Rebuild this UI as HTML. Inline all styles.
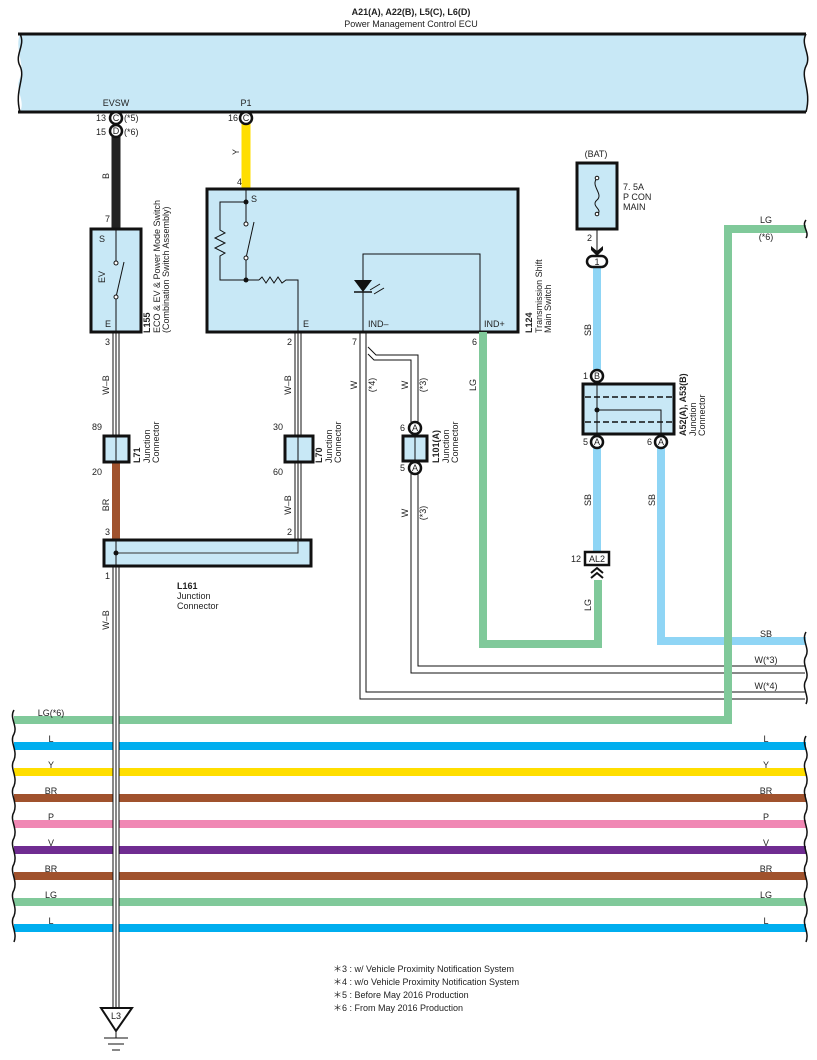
<!DOCTYPE html>
<html><head><meta charset="utf-8"><style>
html,body{margin:0;padding:0;background:#fff}
svg{display:block}
text{font-family:"Liberation Sans",sans-serif;font-size:9px;fill:#222}
</style></head><body>
<svg width="817" height="1060" viewBox="0 0 817 1060" xmlns="http://www.w3.org/2000/svg">
<!-- ECU -->
<text x="411" y="15" text-anchor="middle" font-weight="bold">A21(A), A22(B), L5(C), L6(D)</text>
<text x="411" y="27" text-anchor="middle">Power Management Control ECU</text>
<path d="M20,34 L806,34 C800,45 812,55 806,66 C800,78 812,90 806,112 L20,112 C26,100 14,90 20,78 C26,66 14,50 20,34Z" fill="#c8e8f6"/>
<line x1="18" y1="34" x2="806" y2="34" stroke="#111" stroke-width="3"/>
<line x1="18" y1="112" x2="806" y2="112" stroke="#111" stroke-width="3"/>
<path d="M20,34 C26,45 14,55 20,66 C26,78 14,90 20,112" fill="none" stroke="#111" stroke-width="1.5"/>
<path d="M806,34 C800,45 812,55 806,66 C800,78 812,90 806,112" fill="none" stroke="#111" stroke-width="1.5"/>
<text x="116" y="106" text-anchor="middle">EVSW</text>
<text x="246" y="106" text-anchor="middle">P1</text>

<!-- wires B and Y -->
<line x1="116" y1="136" x2="116" y2="229" stroke="#222" stroke-width="9"/>
<line x1="246" y1="122" x2="246" y2="189" stroke="#ffde00" stroke-width="9"/>
<g fill="#fff" stroke="#111" stroke-width="2.5">
<circle cx="116" cy="118" r="6"/><circle cx="116" cy="131" r="6"/><circle cx="246" cy="118" r="6"/>
</g>
<g font-size="8" text-anchor="middle">
<text x="116" y="121">C</text><text x="116" y="134">D</text><text x="246" y="121">C</text>
</g>
<text x="106" y="121" text-anchor="end">13</text><text x="106" y="135" text-anchor="end">15</text>
<text x="124" y="121">(*5)</text><text x="124" y="135">(*6)</text>
<text x="238" y="121" text-anchor="end">16</text>
<text transform="translate(109,176) rotate(-90)" text-anchor="middle">B</text>
<text transform="translate(239,152) rotate(-90)" text-anchor="middle">Y</text>
<text x="105" y="222">7</text><text x="237" y="185">4</text>

<!-- L155 -->
<rect x="91" y="229" width="50" height="103" fill="#c8e8f6" stroke="#111" stroke-width="3"/>
<line x1="116" y1="229" x2="116" y2="262" stroke="#111"/>
<line x1="116" y1="297" x2="116" y2="332" stroke="#111"/>
<line x1="116" y1="297" x2="124" y2="262" stroke="#111"/>
<circle cx="116" cy="263" r="2" fill="#fff" stroke="#111"/><circle cx="116" cy="297" r="2" fill="#fff" stroke="#111"/>
<text x="99" y="242">S</text><text x="105" y="327">E</text>
<text transform="translate(105,283) rotate(-90)">EV</text>
<g transform="translate(150,333) rotate(-90)"><text x="0" y="0" font-weight="bold">L155</text><text x="0" y="10">ECO &amp; EV &amp; Power Mode Switch</text><text x="0" y="19">(Combination Switch Assembly)</text></g>

<!-- L124 -->
<rect x="207" y="189" width="311" height="143" fill="#c8e8f6" stroke="#111" stroke-width="3"/>
<g stroke="#111" fill="none">
<line x1="246" y1="189" x2="246" y2="224"/>
<line x1="246" y1="280" x2="246" y2="257"/>
<line x1="246" y1="258" x2="254" y2="222"/>
<polyline points="246,202 220,202 220,230 225,233 215,238 225,243 215,248 225,253 220,256 220,280 259,280"/>
<polyline points="259,280 262,277 266,283 270,277 274,283 278,277 282,283 286,280 298,280 298,332"/>
<polyline points="363,332 363,254 480,254 480,332"/>
<line x1="370" y1="290" x2="380" y2="284"/><line x1="374" y1="294" x2="384" y2="288"/>
</g>
<circle cx="246" cy="202" r="2.5" fill="#111"/><circle cx="246" cy="280" r="2.5" fill="#111"/>
<circle cx="246" cy="224" r="2" fill="#fff" stroke="#111"/><circle cx="246" cy="258" r="2" fill="#fff" stroke="#111"/>
<polygon points="354,280 372,280 363,292" fill="#111"/><line x1="354" y1="292" x2="372" y2="292" stroke="#111" stroke-width="1.5"/>
<text x="251" y="202">S</text><text x="303" y="327">E</text><text x="368" y="327">IND–</text><text x="484" y="327">IND+</text>
<g transform="translate(532,333) rotate(-90)"><text x="0" y="0" font-weight="bold">L124</text><text x="0" y="10">Transmission Shift</text><text x="0" y="19">Main Switch</text></g>

<!-- W-B wires -->
<g stroke="#111" stroke-width="1">
<line x1="113" y1="332" x2="113" y2="436"/><line x1="116" y1="332" x2="116" y2="436"/><line x1="119" y1="332" x2="119" y2="436"/>
<line x1="113" y1="566" x2="113" y2="1010"/><line x1="116" y1="566" x2="116" y2="1010"/><line x1="119" y1="566" x2="119" y2="1010"/>
<line x1="295" y1="332" x2="295" y2="436"/><line x1="298" y1="332" x2="298" y2="436"/><line x1="301" y1="332" x2="301" y2="436"/>
<line x1="295" y1="462" x2="295" y2="540"/><line x1="298" y1="462" x2="298" y2="540"/><line x1="301" y1="462" x2="301" y2="540"/>
</g>
<text x="110" y="345" text-anchor="end">3</text><text x="292" y="345" text-anchor="end">2</text><text x="357" y="345" text-anchor="end">7</text><text x="477" y="345" text-anchor="end">6</text>
<text transform="translate(109,385) rotate(-90)" text-anchor="middle">W–B</text>
<text transform="translate(291,385) rotate(-90)" text-anchor="middle">W–B</text>
<text transform="translate(291,505) rotate(-90)" text-anchor="middle">W–B</text>
<text transform="translate(109,620) rotate(-90)" text-anchor="middle">W–B</text>

<!-- L71, L70 -->
<line x1="116" y1="462" x2="116" y2="541" stroke="#a0522d" stroke-width="8"/>
<rect x="104" y="436" width="25" height="26" fill="#c8e8f6" stroke="#111" stroke-width="3"/><line x1="116" y1="436" x2="116" y2="462" stroke="#111"/>
<rect x="285" y="436" width="28" height="26" fill="#c8e8f6" stroke="#111" stroke-width="3"/><line x1="298" y1="436" x2="298" y2="462" stroke="#111"/>
<text x="102" y="430" text-anchor="end">89</text><text x="102" y="475" text-anchor="end">20</text>
<text x="283" y="430" text-anchor="end">30</text><text x="283" y="475" text-anchor="end">60</text>
<text transform="translate(109,505) rotate(-90)" text-anchor="middle">BR</text>
<g transform="translate(140,463) rotate(-90)"><text x="0" y="0" font-weight="bold">L71</text><text x="0" y="10">Junction</text><text x="0" y="19">Connector</text></g>
<g transform="translate(322,463) rotate(-90)"><text x="0" y="0" font-weight="bold">L70</text><text x="0" y="10">Junction</text><text x="0" y="19">Connector</text></g>

<!-- L161 -->
<rect x="104" y="540" width="207" height="26" fill="#c8e8f6" stroke="#111" stroke-width="3"/>
<polyline points="116,553 298,553 298,540" fill="none" stroke="#333"/>
<line x1="116" y1="540" x2="116" y2="566" stroke="#111"/>
<circle cx="116" cy="553" r="2.5" fill="#111"/>
<text x="110" y="535" text-anchor="end">3</text><text x="292" y="535" text-anchor="end">2</text><text x="110" y="579" text-anchor="end">1</text>
<text x="177" y="589" font-weight="bold">L161</text><text x="177" y="599">Junction</text><text x="177" y="609">Connector</text>

<!-- W wires -->
<g stroke="#111" fill="none" stroke-width="1">
<polyline points="360,332 360,699 805,699"/>
<polyline points="366,332 366,692 805,692"/>
<polyline points="368,347 376,355 418,355 418,422"/>
<polyline points="368,354 374,360 411,360 411,422"/>
<polyline points="411,473 411,673 805,673"/>
<polyline points="418,473 418,666 805,666"/>
</g>
<text transform="translate(357,385) rotate(-90)" text-anchor="middle">W</text>
<text transform="translate(375,385) rotate(-90)" text-anchor="middle">(*4)</text>
<text transform="translate(408,385) rotate(-90)" text-anchor="middle">W</text>
<text transform="translate(426,385) rotate(-90)" text-anchor="middle">(*3)</text>
<text transform="translate(408,513) rotate(-90)" text-anchor="middle">W</text>
<text transform="translate(426,513) rotate(-90)" text-anchor="middle">(*3)</text>
<!-- L101 -->
<rect x="403" y="436" width="24" height="25" fill="#c8e8f6" stroke="#111" stroke-width="3"/><line x1="415" y1="436" x2="415" y2="461" stroke="#111"/>
<g fill="#fff" stroke="#111" stroke-width="2.5"><circle cx="415" cy="428" r="6"/><circle cx="415" cy="468" r="6"/></g>
<text x="415" y="431" text-anchor="middle" font-size="8">A</text><text x="415" y="471" text-anchor="middle" font-size="8">A</text>
<text x="405" y="431" text-anchor="end">6</text><text x="405" y="471" text-anchor="end">5</text>
<g transform="translate(439,463) rotate(-90)"><text x="0" y="0" font-weight="bold">L101(A)</text><text x="0" y="10">Junction</text><text x="0" y="19">Connector</text></g>

<!-- LG from IND+ -->
<polyline points="483,332 483,644 598,644 598,580" fill="none" stroke="#80c99a" stroke-width="8"/>
<text transform="translate(476,385) rotate(-90)" text-anchor="middle">LG</text>
<text transform="translate(591,605) rotate(-90)" text-anchor="middle">LG</text>

<!-- fuse -->
<text x="596" y="157" text-anchor="middle">(BAT)</text>
<rect x="577" y="163" width="40" height="66" fill="#c8e8f6" stroke="#111" stroke-width="3"/>
<path d="M597,178 C590,186 604,194 597,200 C590,206 604,210 597,214" fill="none" stroke="#111"/>
<circle cx="597" cy="178" r="1.8" fill="#fff" stroke="#111"/><circle cx="597" cy="214" r="1.8" fill="#fff" stroke="#111"/>
<line x1="597" y1="229" x2="597" y2="252" stroke="#111"/>
<polygon points="591,246 597,251 603,246 603,250 597,256 591,250" fill="#111"/>
<text x="623" y="190">7. 5A</text><text x="623" y="200">P CON</text><text x="623" y="210">MAIN</text>
<text x="592" y="241" text-anchor="end">2</text>
<line x1="597" y1="266" x2="597" y2="371" stroke="#8fd5f5" stroke-width="8"/>
<rect x="587" y="256" width="20" height="11" rx="5.5" fill="#fff" stroke="#111" stroke-width="2.5"/>
<text x="597" y="265" text-anchor="middle" font-size="8">1</text>
<text transform="translate(591,330) rotate(-90)" text-anchor="middle">SB</text>

<!-- A52 -->
<line x1="597" y1="446" x2="597" y2="553" stroke="#8fd5f5" stroke-width="8"/>
<polyline points="661,446 661,641 806,641" fill="none" stroke="#8fd5f5" stroke-width="8"/>
<rect x="583" y="384" width="91" height="50" fill="#c8e8f6" stroke="#111" stroke-width="3"/>
<line x1="585" y1="397" x2="672" y2="397" stroke="#111" stroke-width="1.5" stroke-dasharray="6,3"/>
<line x1="585" y1="422" x2="672" y2="422" stroke="#111" stroke-width="1.5" stroke-dasharray="6,3"/>
<line x1="597" y1="384" x2="597" y2="434" stroke="#111"/>
<polyline points="597,410 661,410 661,434" fill="none" stroke="#111"/>
<circle cx="597" cy="410" r="2.5" fill="#111"/>
<g fill="#fff" stroke="#111" stroke-width="2.5"><circle cx="597" cy="376" r="6"/><circle cx="597" cy="442" r="6"/><circle cx="661" cy="442" r="6"/></g>
<text x="597" y="379" text-anchor="middle" font-size="8">B</text><text x="597" y="445" text-anchor="middle" font-size="8">A</text><text x="661" y="445" text-anchor="middle" font-size="8">A</text>
<text x="588" y="379" text-anchor="end">1</text><text x="588" y="445" text-anchor="end">5</text><text x="652" y="445" text-anchor="end">6</text>
<g transform="translate(686,436) rotate(-90)"><text x="0" y="0" font-weight="bold">A52(A), A53(B)</text><text x="0" y="10">Junction</text><text x="0" y="19">Connector</text></g>
<text transform="translate(591,500) rotate(-90)" text-anchor="middle">SB</text>
<text transform="translate(655,500) rotate(-90)" text-anchor="middle">SB</text>
<!-- AL2 -->
<rect x="585" y="552" width="24" height="13" fill="#fff" stroke="#111" stroke-width="2.5"/>
<text x="597" y="562" text-anchor="middle">AL2</text><text x="581" y="562" text-anchor="end">12</text>
<polyline points="591,573 597,568 603,573" fill="none" stroke="#111" stroke-width="2"/>
<polyline points="591,578 597,573 603,578" fill="none" stroke="#111" stroke-width="2"/>
<text x="766" y="637" text-anchor="middle">SB</text>
<text x="766" y="663" text-anchor="middle">W(*3)</text>
<text x="766" y="689" text-anchor="middle">W(*4)</text>

<!-- LG(*6) -->
<polyline points="806,229 728,229 728,720 14,720" fill="none" stroke="#80c99a" stroke-width="8"/>
<text x="766" y="223" text-anchor="middle">LG</text><text x="766" y="240" text-anchor="middle">(*6)</text>
<path d="M806,220 C801,226 810,232 806,238" fill="none" stroke="#111" stroke-width="1.5"/>
<path d="M806,632 C801,640 810,648 806,656 C801,664 810,672 806,680 C801,688 810,696 806,704" fill="none" stroke="#111" stroke-width="1.5"/>

<!-- buses -->
<g stroke-width="8">
<line x1="14" y1="746" x2="806" y2="746" stroke="#00aeef"/>
<line x1="14" y1="772" x2="806" y2="772" stroke="#ffde00"/>
<line x1="14" y1="798" x2="806" y2="798" stroke="#a0522d"/>
<line x1="14" y1="824" x2="806" y2="824" stroke="#f088b4"/>
<line x1="14" y1="850" x2="806" y2="850" stroke="#6f2c91"/>
<line x1="14" y1="876" x2="806" y2="876" stroke="#a0522d"/>
<line x1="14" y1="902" x2="806" y2="902" stroke="#80c99a"/>
<line x1="14" y1="928" x2="806" y2="928" stroke="#00aeef"/>
</g>
<line x1="116" y1="715" x2="116" y2="935" stroke="#fff" stroke-width="7"/>
<g stroke="#111" stroke-width="1">
<line x1="113" y1="712" x2="113" y2="940"/><line x1="116" y1="712" x2="116" y2="940"/><line x1="119" y1="712" x2="119" y2="940"/>
</g>
<path d="M14,710 C9,718 18,726 14,734 C9,742 18,750 14,760 C9,768 18,776 14,786 C9,794 18,802 14,812 C9,820 18,828 14,838 C9,846 18,854 14,864 C9,872 18,880 14,890 C9,898 18,906 14,916 C9,924 18,932 14,942" fill="none" stroke="#111" stroke-width="1.5"/>
<path d="M806,736 C801,744 810,752 806,760 C801,768 810,776 806,786 C801,794 810,802 806,812 C801,820 810,828 806,838 C801,846 810,854 806,864 C801,872 810,880 806,890 C801,898 810,906 806,916 C801,924 810,932 806,942" fill="none" stroke="#111" stroke-width="1.5"/>
<g text-anchor="middle">
<text x="51" y="716">LG(*6)</text>
<text x="51" y="742">L</text><text x="51" y="768">Y</text><text x="51" y="794">BR</text><text x="51" y="820">P</text><text x="51" y="846">V</text><text x="51" y="872">BR</text><text x="51" y="898">LG</text><text x="51" y="924">L</text>
<text x="766" y="742">L</text><text x="766" y="768">Y</text><text x="766" y="794">BR</text><text x="766" y="820">P</text><text x="766" y="846">V</text><text x="766" y="872">BR</text><text x="766" y="898">LG</text><text x="766" y="924">L</text>
</g>

<!-- ground -->
<polygon points="101,1008 132,1008 116,1031" fill="#fff" stroke="#111" stroke-width="2"/>
<text x="116" y="1019" text-anchor="middle">L3</text>
<line x1="116" y1="1031" x2="116" y2="1038" stroke="#111"/>
<line x1="104" y1="1038" x2="128" y2="1038" stroke="#111"/>
<line x1="108" y1="1044" x2="124" y2="1044" stroke="#111"/>
<line x1="112" y1="1050" x2="120" y2="1050" stroke="#111"/>

<!-- notes -->
<text x="333" y="972">＊3 : w/ Vehicle Proximity Notification System</text>
<text x="333" y="985">＊4 : w/o Vehicle Proximity Notification System</text>
<text x="333" y="998">＊5 : Before May 2016 Production</text>
<text x="333" y="1011">＊6 : From May 2016 Production</text>
</svg>
</body></html>
